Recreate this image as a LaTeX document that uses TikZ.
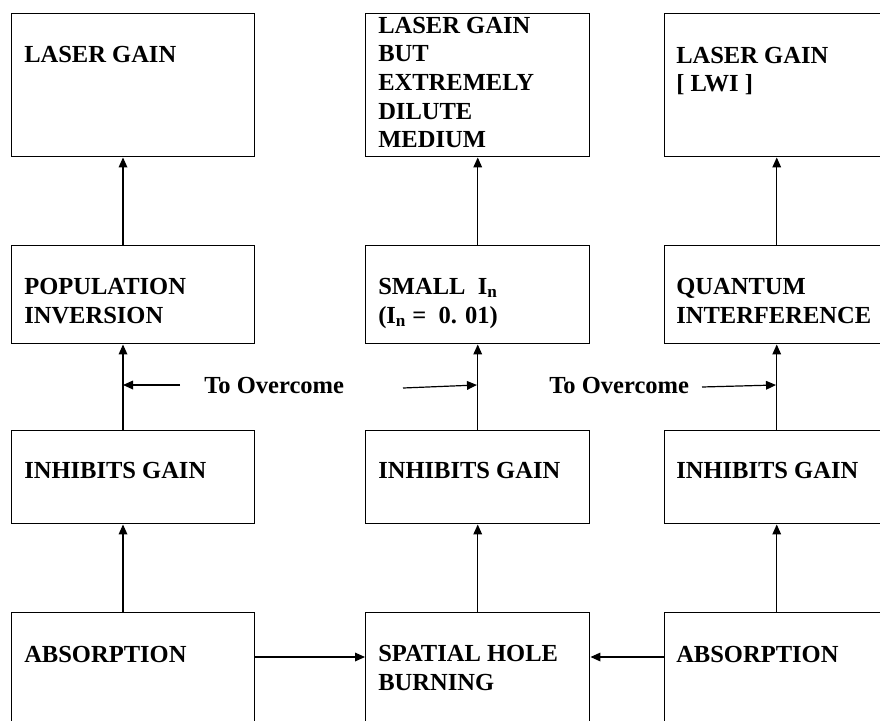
\documentclass[tikz,border=0pt]{standalone}
\usepackage{fontspec}
\setmainfont{Liberation Serif}
\usetikzlibrary{arrows.meta}
\begin{document}
\begin{tikzpicture}[x=0.75pt,y=-0.75pt,
  box/.style={draw,line width=1.1pt,rectangle,anchor=north west,inner sep=0pt},
  boxL/.style={box,minimum width=182.25pt},
  boxM/.style={box,minimum width=168pt},
  lbl/.style={anchor=base west,inner sep=0pt,font=\fontsize{18.4}{21.5}\selectfont\bfseries,align=left},
  arr/.style={line width=0.9pt,-{Triangle[length=7.5pt,width=6.5pt]}}]
\useasboundingbox (0,0) rectangle (880,720);
\clip (0,0) rectangle (880,720);
% boxes
\node[boxL,minimum height=107.25pt] (r1a) at (11,13) {};
\node[boxM,minimum height=107.25pt] (r1b) at (365,13) {};
\node[boxM,minimum height=107.25pt] (r1c) at (664,13) {};
\node[boxL,minimum height=73.5pt] (r2a) at (11,245) {};
\node[boxM,minimum height=73.5pt] (r2b) at (365,245) {};
\node[boxM,minimum height=73.5pt] (r2c) at (664,245) {};
\node[boxL,minimum height=69.75pt] (r3a) at (11,430) {};
\node[boxM,minimum height=69.75pt] (r3b) at (365,430) {};
\node[boxM,minimum height=69.75pt] (r3c) at (664,430) {};
\node[boxL,minimum height=97.5pt] (r4a) at (11,612) {};
\node[boxM,minimum height=97.5pt] (r4b) at (365,612) {};
\node[boxM,minimum height=97.5pt] (r4c) at (664,612) {};
% labels (anchor = baseline of last line)
\node[lbl] (t1a) at (24,63) {LASER GAIN};
\node[lbl] (t1b) at (378,148) {LASER GAIN\\BUT\\EXTREMELY\\DILUTE\\MEDIUM};
\node[lbl] (t1c) at (676,92) {LASER GAIN\\{[} LWI ]};
\node[lbl] (t2a) at (24,323) {POPULATION\\INVERSION};
\node[lbl] (t2b) at (378,323) {SMALL\ \ I\textsubscript{n}\\(I\textsubscript{n} = \ 0. 01)};
\node[lbl] (t2c) at (676,323) {QUANTUM\\INTERFERENCE};
\node[lbl] (t3a) at (24,478) {INHIBITS GAIN};
\node[lbl] (t3b) at (378,478) {INHIBITS GAIN};
\node[lbl] (t3c) at (676,478) {INHIBITS GAIN};
\node[lbl] (t4a) at (24,662) {ABSORPTION};
\node[lbl] (t4b) at (378,690) {SPATIAL HOLE\\BURNING};
\node[lbl] (t4c) at (676,662) {ABSORPTION};
\node[lbl] (ov1) at (204,393) {To Overcome};
\node[lbl] (ov2) at (549,393) {To Overcome};
% helper coordinates
\coordinate (xL) at (123,0);
\coordinate (hy) at (0,657);
\coordinate (oL) at (180,385);
\coordinate (jL) at (123,385);
\coordinate (oM) at (403,388);
\coordinate (jM) at (477,385);
\coordinate (oR) at (702,387);
\coordinate (jR) at (776,385);
% vertical arrows
\draw[arr] (r4a.north -| xL) -- (r3a.south -| xL);
\draw[arr] (r3a.north -| xL) -- (r2a.south -| xL);
\draw[arr] (r2a.north -| xL) -- (r1a.south -| xL);
\draw[arr] (r4b.north) -- (r3b.south);
\draw[arr] (r3b.north) -- (r2b.south);
\draw[arr] (r2b.north) -- (r1b.south);
\draw[arr] (r4c.north) -- (r3c.south);
\draw[arr] (r3c.north) -- (r2c.south);
\draw[arr] (r2c.north) -- (r1c.south);
% horizontal arrows
\draw[arr] (r4a.east |- hy) -- (r4b.west |- hy);
\draw[arr] (r4c.west |- hy) -- (r4b.east |- hy);
\draw[arr] (oL) -- (jL);
\draw[arr] (oM) -- (jM);
\draw[arr] (oR) -- (jR);
\end{tikzpicture}
\end{document}
